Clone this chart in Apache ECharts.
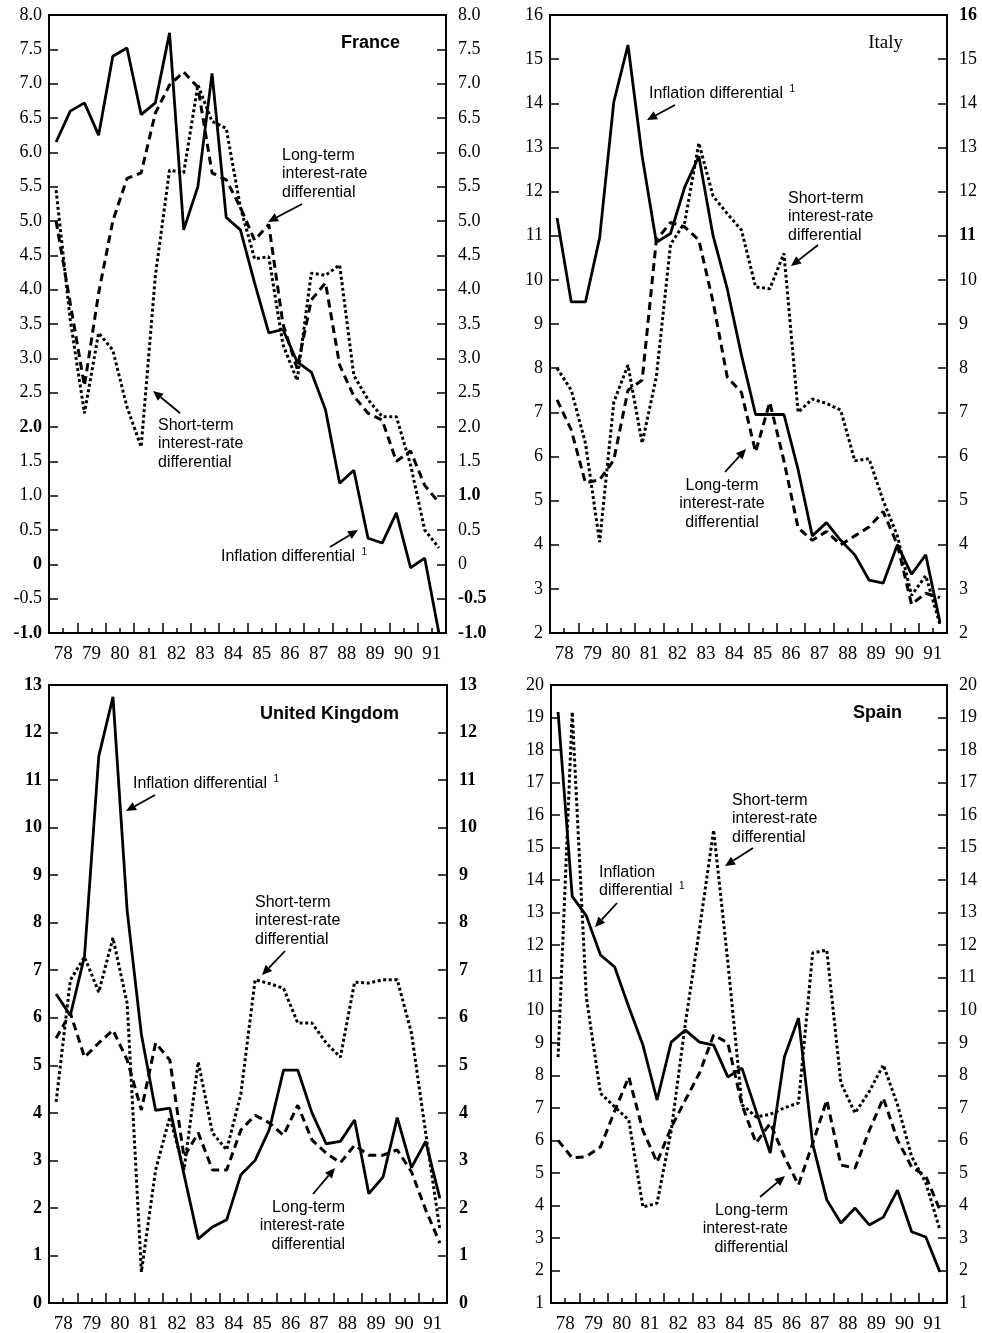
<!DOCTYPE html>
<html>
<head>
<meta charset="utf-8">
<script src="https://cdn.jsdelivr.net/npm/echarts@6/dist/echarts.min.js"></script>
<style>
  html, body { margin: 0; padding: 0; background: #fff; }
  #chart { width: 982px; height: 1333px; }
</style>
</head>
<body>
<div id="chart"></div>
<script>
// half-year observations, 1978 H1 .. 1991 H2
var halfYears = ['78a','78b','79a','79b','80a','80b','81a','81b','82a','82b','83a','83b','84a','84b',
                 '85a','85b','86a','86b','87a','87b','88a','88b','89a','89b','90a','90b','91a','91b'];
var years = ['78','79','80','81','82','83','84','85','86','87','88','89','90','91'];

var franceInflation = [6.15, 6.6, 6.72, 6.25, 7.4, 7.52, 6.55, 6.72, 7.74, 4.87, 5.5, 7.15, 5.05, 4.87,
                       4.1, 3.37, 3.42, 2.95, 2.8, 2.25, 1.18, 1.37, 0.38, 0.31, 0.75, -0.05, 0.09, -1.0];
var franceLong = [5.0, 3.8, 2.6, 3.95, 5.0, 5.62, 5.7, 6.57, 6.98, 7.17, 6.95, 5.7, 5.6, 5.2,
                  4.72, 4.95, 3.5, 2.85, 3.85, 4.1, 2.9, 2.45, 2.2, 2.1, 1.5, 1.65, 1.15, 0.9];
var franceShort = [5.45, 3.56, 2.2, 3.37, 3.12, 2.29, 1.71, 4.2, 5.74, 5.7, 6.98, 6.45, 6.35, 5.2,
                   4.45, 4.48, 3.2, 2.68, 4.24, 4.21, 4.36, 2.75, 2.4, 2.15, 2.15, 1.45, 0.5, 0.24];

var italyInflation = [11.4, 9.5, 9.5, 10.95, 14.03, 15.32, 12.8, 10.85, 11.05, 12.1, 12.8, 11.0, 9.8, 8.3,
                      6.95, 6.95, 6.95, 5.7, 4.2, 4.5, 4.1, 3.77, 3.2, 3.13, 4.0, 3.33, 3.77, 2.25];
var italyLong = [7.28, 6.6, 5.4, 5.47, 5.92, 7.5, 7.73, 10.9, 11.3, 11.2, 10.9, 9.5, 7.8, 7.45,
                 6.1, 7.23, 5.9, 4.38, 4.1, 4.3, 4.0, 4.2, 4.4, 4.75, 4.0, 2.65, 2.9, 2.8];
var italyShort = [8.0, 7.5, 6.3, 4.06, 7.23, 8.07, 6.3, 7.8, 10.8, 11.3, 13.1, 11.9, 11.5, 11.13,
                  9.84, 9.8, 10.6, 7.0, 7.3, 7.2, 7.05, 5.9, 5.95, 5.0, 4.2, 2.85, 3.3, 2.2];

var ukInflation = [6.5, 6.05, 7.3, 11.5, 12.75, 8.25, 5.65, 4.05, 4.1, 2.7, 1.35, 1.6, 1.75, 2.7,
                   3.0, 3.65, 4.9, 4.9, 4.0, 3.35, 3.4, 3.85, 2.3, 2.65, 3.9, 2.85, 3.4, 2.2];
var ukLong = [5.57, 6.1, 5.17, 5.47, 5.74, 5.11, 4.06, 5.47, 5.11, 3.07, 3.58, 2.8, 2.8, 3.64,
              3.95, 3.79, 3.53, 4.16, 3.43, 3.15, 2.95, 3.32, 3.11, 3.11, 3.22, 2.76, 1.96, 1.26];
var ukShort = [4.23, 6.79, 7.28, 6.54, 7.68, 6.3, 0.65, 2.8, 3.91, 2.8, 5.07, 3.58, 3.22, 4.4,
               6.8, 6.72, 6.62, 5.89, 5.89, 5.47, 5.17, 6.75, 6.73, 6.8, 6.8, 5.68, 3.58, 1.54];

var spainInflation = [19.17, 13.5, 12.9, 11.7, 11.33, 10.1, 8.93, 7.24, 9.02, 9.39, 9.02, 8.93, 7.95, 8.22,
                      6.9, 5.61, 8.56, 9.76, 5.9, 4.17, 3.46, 3.92, 3.4, 3.64, 4.47, 3.19, 3.03, 1.95];
var spainLong = [6.0, 5.46, 5.5, 5.8, 6.9, 7.95, 6.3, 5.33, 6.4, 7.24, 8.07, 9.24, 9.0, 7.09,
                 5.92, 6.53, 5.5, 4.63, 5.9, 7.24, 5.24, 5.15, 6.3, 7.3, 6.01, 5.18, 4.9, 3.86];
var spainShort = [8.56, 19.17, 10.4, 7.45, 7.03, 6.63, 3.95, 4.07, 6.3, 9.6, 12.5, 15.54, 11.5, 7.1,
                  6.72, 6.8, 7.0, 7.15, 11.76, 11.85, 7.76, 6.84, 7.5, 8.32, 7.1, 5.5, 4.7, 3.24];

var SERIF = '"Liberation Serif", "DejaVu Serif", serif';
var SANS = '"Liberation Sans", Arial, sans-serif';

var panels = [
  { title: 'France', titleFont: 'bold 18px ' + SANS, titleX: 400, titleY: 43,
    rect: { left: 49, top: 15, width: 397, height: 618 }, min: -1, max: 8, interval: 0.5, decimals: true,
    weight: 'normal', boldLeft: ['2.0', '0', '-1.0'], boldRight: ['1.0', '-0.5', '-1.0'],
    data: [franceInflation, franceLong, franceShort] },
  { title: 'Italy', titleFont: '19px ' + SERIF, titleX: 903, titleY: 43,
    rect: { left: 550, top: 15, width: 397, height: 618 }, min: 2, max: 16, interval: 1, decimals: false,
    weight: 'normal', boldLeft: [], boldRight: ['16', '11'],
    data: [italyInflation, italyLong, italyShort] },
  { title: 'United Kingdom', titleFont: 'bold 18px ' + SANS, titleX: 399, titleY: 714,
    rect: { left: 49, top: 685, width: 398, height: 618 }, min: 0, max: 13, interval: 1, decimals: false,
    weight: 'bold', boldLeft: [], boldRight: [],
    data: [ukInflation, ukLong, ukShort] },
  { title: 'Spain', titleFont: 'bold 18px ' + SANS, titleX: 902, titleY: 713,
    rect: { left: 551, top: 685, width: 396, height: 618 }, min: 1, max: 20, interval: 1, decimals: false,
    weight: 'normal', boldLeft: [], boldRight: [],
    data: [spainInflation, spainLong, spainShort] }
];

var lineStyles = [
  { color: '#000', width: 2.8, type: 'solid' },
  { color: '#000', width: 3, type: [8, 5] },
  { color: '#000', width: 3, type: [3, 2.6] }
];

// annotation texts and arrows, in page pixels
var notes = [
  { text: 'Long-term\ninterest-rate\ndifferential', x: 282, y: 146, align: 'left', arrow: [[302, 204], [268, 222]] },
  { text: 'Short-term\ninterest-rate\ndifferential', x: 158, y: 416, align: 'left', arrow: [[180, 413], [153, 391]] },
  { text: 'Inflation differential {sup|1}', x: 221, y: 547, align: 'left', arrow: [[330, 547], [358, 530]] },
  { text: 'Inflation differential {sup|1}', x: 649, y: 84, align: 'left', arrow: [[675, 105], [647, 120]] },
  { text: 'Short-term\ninterest-rate\ndifferential', x: 788, y: 189, align: 'left', arrow: [[818, 245], [791, 266]] },
  { text: 'Long-term\ninterest-rate\ndifferential', x: 722, y: 476, align: 'center', arrow: [[725, 472], [746, 449]] },
  { text: 'Inflation differential {sup|1}', x: 133, y: 774, align: 'left', arrow: [[155, 795], [126, 811]] },
  { text: 'Short-term\ninterest-rate\ndifferential', x: 255, y: 893, align: 'left', arrow: [[285, 951], [262, 975]] },
  { text: 'Long-term\ninterest-rate\ndifferential', x: 345, y: 1198, align: 'right', arrow: [[313, 1194], [335, 1168]] },
  { text: 'Short-term\ninterest-rate\ndifferential', x: 732, y: 791, align: 'left', arrow: [[753, 848], [725, 866]] },
  { text: 'Inflation\ndifferential {sup|1}', x: 599, y: 863, align: 'left', arrow: [[617, 903], [595, 927]] },
  { text: 'Long-term\ninterest-rate\ndifferential', x: 788, y: 1201, align: 'right', arrow: [[760, 1197], [785, 1176]] }
];

function labelFormatter(p, bold) {
  return function (v) {
    var s = (p.decimals && v !== 0) ? v.toFixed(1) : String(Math.round(v * 100) / 100);
    return bold.indexOf(s) >= 0 ? '{b|' + s + '}' : s;
  };
}

var grids = [], xAxes = [], yAxes = [], series = [], graphics = [];

panels.forEach(function (p, i) {
  grids.push({
    left: p.rect.left, top: p.rect.top, width: p.rect.width, height: p.rect.height,
    show: true, borderColor: '#000', borderWidth: 2, backgroundColor: 'transparent',
    containLabel: false, outerBoundsMode: 'none'
  });
  xAxes.push({
    type: 'category', gridIndex: i, position: 'bottom', data: halfYears, boundaryGap: true,
    axisLine: { show: true, onZero: false, lineStyle: { color: '#000', width: 2 } },
    axisTick: { show: true, inside: true, length: 5, interval: 0, lineStyle: { color: '#000', width: 1.5 } },
    axisLabel: { show: false }
  });
  xAxes.push({
    type: 'category', gridIndex: i, position: 'bottom', data: years, boundaryGap: true,
    axisLine: { show: false, onZero: false },
    axisTick: { show: true, inside: true, length: 10, interval: 0, lineStyle: { color: '#000', width: 1.5 } },
    axisLabel: { show: true, interval: 0, margin: 12, color: '#000', fontFamily: SERIF, fontSize: 19 }
  });
  [['left', p.boldLeft, 7], ['right', p.boldRight, 12]].forEach(function (side) {
    yAxes.push({
      type: 'value', gridIndex: i, position: side[0], min: p.min, max: p.max, interval: p.interval,
      axisLine: { show: true, onZero: false, lineStyle: { color: '#000', width: 2 } },
      axisTick: { show: true, inside: true, length: 9, lineStyle: { color: '#000', width: 1.5 } },
      splitLine: { show: false },
      axisLabel: {
        margin: side[2], color: '#000', fontFamily: SERIF, fontSize: 18, fontWeight: p.weight,
        formatter: labelFormatter(p, side[1]),
        rich: { b: { fontFamily: SERIF, fontSize: 18, fontWeight: 'bold', color: '#000' } }
      }
    });
  });
  p.data.forEach(function (d, k) {
    series.push({
      type: 'line', xAxisIndex: 2 * i, yAxisIndex: 2 * i, data: d,
      symbol: 'none', smooth: false, silent: true,
      lineStyle: lineStyles[k], z: 3 - k
    });
  });
  graphics.push({
    type: 'text', x: p.titleX, y: p.titleY,
    style: { text: p.title, font: p.titleFont, fill: '#000', textAlign: 'right', textVerticalAlign: 'middle' }
  });
});

notes.forEach(function (n) {
  graphics.push({
    type: 'text', x: n.x, y: n.y,
    style: {
      text: n.text, fill: '#000', fontFamily: SANS, fontSize: 16, lineHeight: 18.5,
      textAlign: n.align, textVerticalAlign: 'top',
      rich: { sup: { fontFamily: SANS, fontSize: 10, verticalAlign: 'top', lineHeight: 18.5, padding: [0, 0, 0, 2] } }
    }
  });
  var a = n.arrow[0], b = n.arrow[1];
  var dx = b[0] - a[0], dy = b[1] - a[1], len = Math.sqrt(dx * dx + dy * dy);
  var ux = dx / len, uy = dy / len, hl = 10, hw = 4.5;
  var bx = b[0] - ux * hl, by = b[1] - uy * hl;
  graphics.push({
    type: 'line', shape: { x1: a[0], y1: a[1], x2: bx, y2: by },
    style: { stroke: '#000', lineWidth: 1.8 }
  });
  graphics.push({
    type: 'polygon',
    shape: { points: [[b[0], b[1]], [bx - uy * hw, by + ux * hw], [bx + uy * hw, by - ux * hw]] },
    style: { fill: '#000' }
  });
});

var chart = echarts.init(document.getElementById('chart'));
chart.setOption({
  animation: false,
  backgroundColor: '#fff',
  grid: grids,
  xAxis: xAxes,
  yAxis: yAxes,
  series: series,
  graphic: graphics
});
</script>
</body>
</html>
